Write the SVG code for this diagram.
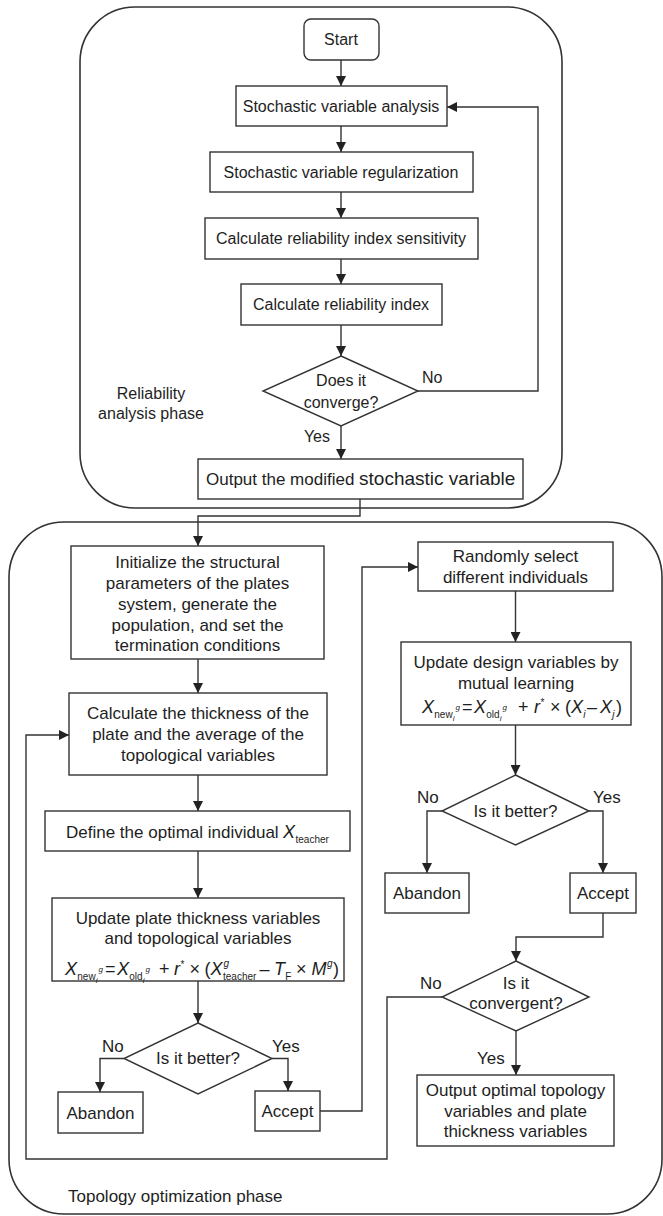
<svg xmlns="http://www.w3.org/2000/svg" width="663" height="1216" viewBox="0 0 663 1216">
<defs>
<marker id="arr" markerUnits="userSpaceOnUse" markerWidth="10" markerHeight="10" refX="10" refY="5" orient="auto">
<path d="M0,0 L10,5 L0,10 Z" fill="#222"/>
</marker>
<style>
.frame{fill:none;stroke:#333;stroke-width:1.6}
.box{fill:#fff;stroke:#333;stroke-width:1.4}
.t{font-family:"Liberation Sans",Arial,sans-serif;font-size:17px;fill:#1e1e1e;text-anchor:middle}
.tt{font-family:"Liberation Sans",Arial,sans-serif;font-size:16px;fill:#1e1e1e;text-anchor:middle}
.l{font-family:"Liberation Sans",Arial,sans-serif;font-size:17px;fill:#1e1e1e}
.m{font-family:"Liberation Sans",Arial,sans-serif;font-size:18px;fill:#1e1e1e}
.mi{font-family:"Liberation Sans",Arial,sans-serif;font-size:18px;font-style:italic;fill:#1e1e1e}
.s{font-family:"Liberation Sans",Arial,sans-serif;font-size:10px;fill:#1e1e1e}
.si{font-family:"Liberation Sans",Arial,sans-serif;font-size:10px;font-style:italic;fill:#1e1e1e}
.ss{font-family:"Liberation Sans",Arial,sans-serif;font-size:8px;font-style:italic;fill:#1e1e1e}
.c{fill:none;stroke:#333;stroke-width:1.4}
</style>
</defs>
<rect width="663" height="1216" fill="#fff"/>

<g id="phase-reliability">
<rect class="frame" x="80" y="7" width="482" height="501" rx="55"/>
<text class="tt" x="151" y="399">Reliability</text>
<text class="tt" x="151" y="419">analysis phase</text>
</g>
<g id="phase-topology">
<rect class="frame" x="9" y="522" width="653" height="692" rx="55"/>
<text class="l" x="68" y="1202">Topology optimization phase</text>
</g>

<g id="connectors">
<path class="c" d="M341,60 V86" marker-end="url(#arr)"/>
<path class="c" d="M341,126 V152" marker-end="url(#arr)"/>
<path class="c" d="M341,192 V218" marker-end="url(#arr)"/>
<path class="c" d="M341,259 V284" marker-end="url(#arr)"/>
<path class="c" d="M341,325 V356" marker-end="url(#arr)"/>
<path class="c" d="M418,391 H538 V107 H447" marker-end="url(#arr)"/>
<path class="c" d="M341,426 V459" marker-end="url(#arr)"/>
<path class="c" d="M360,499 V516 H198 V546" marker-end="url(#arr)"/>
<path class="c" d="M198,659 V693" marker-end="url(#arr)"/>
<path class="c" d="M198,775 V811" marker-end="url(#arr)"/>
<path class="c" d="M198,851 V898" marker-end="url(#arr)"/>
<path class="c" d="M198,981 V1023" marker-end="url(#arr)"/>
<path class="c" d="M124,1058.5 H100 V1092" marker-end="url(#arr)"/>
<path class="c" d="M272,1058.5 H288 V1091" marker-end="url(#arr)"/>
<path class="c" d="M320,1111 H362 V567 H418" marker-end="url(#arr)"/>
<path class="c" d="M515.5,591 V642" marker-end="url(#arr)"/>
<path class="c" d="M515.5,725 V775" marker-end="url(#arr)"/>
<path class="c" d="M442,811 H427 V873" marker-end="url(#arr)"/>
<path class="c" d="M589,811 H603 V873" marker-end="url(#arr)"/>
<path class="c" d="M603,913 V937 H516 V961" marker-end="url(#arr)"/>
<path class="c" d="M516,1031 V1075" marker-end="url(#arr)"/>
<path class="c" d="M442,997 H387 V1159 H26 V735 H69" marker-end="url(#arr)"/>
<text class="l" x="422" y="383" style="font-size:16px">No</text>
<text class="l" x="330" y="442" style="font-size:16px;text-anchor:end">Yes</text>
<text class="l" x="102" y="1052">No</text>
<text class="l" x="272" y="1052">Yes</text>
<text class="l" x="417" y="803">No</text>
<text class="l" x="593" y="803">Yes</text>
<text class="l" x="420" y="989">No</text>
<text class="l" x="477" y="1064">Yes</text>
</g>

<g id="start">
<rect class="box" x="304" y="19" width="75" height="41" rx="7"/>
<text class="tt" x="341" y="45">Start</text>
</g>
<g id="sv-analysis">
<rect class="box" x="236" y="86" width="211" height="40"/>
<text class="tt" x="341" y="111.7">Stochastic variable analysis</text>
</g>
<g id="sv-regularization">
<rect class="box" x="210" y="152" width="263" height="40"/>
<text class="tt" x="341" y="177.7">Stochastic variable regularization</text>
</g>
<g id="ri-sensitivity">
<rect class="box" x="205" y="218" width="273" height="41"/>
<text class="tt" x="341" y="244">Calculate reliability index sensitivity</text>
</g>
<g id="ri">
<rect class="box" x="241" y="284" width="201" height="41"/>
<text class="tt" x="341" y="310">Calculate reliability index</text>
</g>
<g id="converge-1">
<polygon class="box" points="341,356 418,391 341,426 263,391"/>
<text class="tt" x="341" y="385.7">Does it</text>
<text class="tt" x="341" y="407.7">converge?</text>
</g>
<g id="output-sv">
<rect class="box" x="198" y="459" width="325" height="40"/>
<text class="l" x="206" y="485">Output the modified <tspan style="font-size:19px">stochastic variable</tspan></text>
</g>

<g id="init">
<rect class="box" x="71" y="546" width="253" height="113"/>
<text class="t" x="197.5" y="568">Initialize the structural</text>
<text class="t" x="197.5" y="589">parameters of the plates</text>
<text class="t" x="197.5" y="610">system, generate the</text>
<text class="t" x="197.5" y="631">population, and set the</text>
<text class="t" x="197.5" y="651">termination conditions</text>
</g>
<g id="calc-thickness">
<rect class="box" x="69" y="693" width="258" height="82"/>
<text class="t" x="198" y="719">Calculate the thickness of the</text>
<text class="t" x="198" y="740">plate and the average of the</text>
<text class="t" x="198" y="761">topological variables</text>
</g>
<g id="define-teacher">
<rect class="box" x="45" y="811" width="305" height="40"/>
<text class="l" x="66" y="838">Define the optimal individual </text>
<text class="mi" x="283" y="838">X</text>
<text class="s" x="295.5" y="843">teacher</text>
</g>
<g id="update-plate">
<rect class="box" x="52" y="898" width="292" height="83"/>
<text class="t" x="198" y="924">Update plate thickness variables</text>
<text class="t" x="198" y="944">and topological variables</text>
<text class="mi" x="65" y="975">X</text>
<text class="s" x="77.3" y="980">new</text>
<text class="ss" x="95.8" y="983">i</text>
<text class="ss" x="98.5" y="972">g</text>
<text class="m" x="105" y="975">=</text>
<text class="mi" x="117" y="975">X</text>
<text class="s" x="129.3" y="980">old</text>
<text class="ss" x="142.8" y="983">i</text>
<text class="ss" x="145.5" y="972">g</text>
<text class="m" x="159" y="975">+</text>
<text class="mi" x="174" y="975">r</text>
<text class="s" x="180.5" y="968">*</text>
<text class="m" x="189.5" y="975">×</text>
<text class="m" x="204.5" y="975">(</text>
<text class="mi" x="210.5" y="975">X</text>
<text class="si" x="223.5" y="967">g</text>
<text class="s" x="223" y="980">teacher</text>
<text class="m" x="259.5" y="975">–</text>
<text class="mi" x="274" y="975">T</text>
<text class="s" x="285.3" y="980">F</text>
<text class="m" x="296" y="975">×</text>
<text class="mi" x="311.5" y="975">M</text>
<text class="si" x="327" y="967">g</text>
<text class="m" x="333" y="975">)</text>
</g>
<g id="better-1">
<polygon class="box" points="198,1023 272,1058.5 198,1094 124,1058.5"/>
<text class="t" x="198" y="1064">Is it better?</text>
</g>
<g id="abandon-1">
<rect class="box" x="58" y="1092" width="85" height="41"/>
<text class="t" x="100.5" y="1118.5">Abandon</text>
</g>
<g id="accept-1">
<rect class="box" x="255" y="1091" width="65" height="40"/>
<text class="t" x="287.5" y="1117">Accept</text>
</g>

<g id="random-select">
<rect class="box" x="418" y="542" width="195" height="49"/>
<text class="t" x="515.5" y="562">Randomly select</text>
<text class="t" x="515.5" y="583">different individuals</text>
</g>
<g id="mutual-learning">
<rect class="box" x="401" y="642" width="230" height="83"/>
<text class="t" x="516" y="668">Update design variables by</text>
<text class="t" x="516" y="689">mutual learning</text>
<text class="mi" x="422" y="713">X</text>
<text class="s" x="434.3" y="718">new</text>
<text class="ss" x="452.8" y="721">i</text>
<text class="ss" x="455.5" y="710">g</text>
<text class="m" x="462" y="713">=</text>
<text class="mi" x="474" y="713">X</text>
<text class="s" x="486.3" y="718">old</text>
<text class="ss" x="499.8" y="721">i</text>
<text class="ss" x="502.5" y="710">g</text>
<text class="m" x="518" y="713">+</text>
<text class="mi" x="534" y="713">r</text>
<text class="s" x="540.5" y="706">*</text>
<text class="m" x="550" y="713">×</text>
<text class="m" x="565" y="713">(</text>
<text class="mi" x="571" y="713">X</text>
<text class="si" x="583.3" y="718">i</text>
<text class="m" x="587" y="713">–</text>
<text class="mi" x="600" y="713">X</text>
<text class="si" x="612.3" y="718">j</text>
<text class="m" x="616" y="713">)</text>
</g>
<g id="better-2">
<polygon class="box" points="515.5,775 589,811 515.5,845 442,811"/>
<text class="t" x="515.5" y="817">Is it better?</text>
</g>
<g id="abandon-2">
<rect class="box" x="385" y="873" width="84" height="40"/>
<text class="t" x="427" y="899">Abandon</text>
</g>
<g id="accept-2">
<rect class="box" x="570" y="873" width="66" height="40"/>
<text class="t" x="603" y="899">Accept</text>
</g>
<g id="convergent-2">
<polygon class="box" points="516,961 589,997 516,1031 442,997"/>
<text class="t" x="516" y="989">Is it</text>
<text class="t" x="516" y="1009">convergent?</text>
</g>
<g id="output-optimal">
<rect class="box" x="417" y="1075" width="197" height="71"/>
<text class="t" x="515.5" y="1096">Output optimal topology</text>
<text class="t" x="515.5" y="1117">variables and plate</text>
<text class="t" x="515.5" y="1137">thickness variables</text>
</g>
</svg>
